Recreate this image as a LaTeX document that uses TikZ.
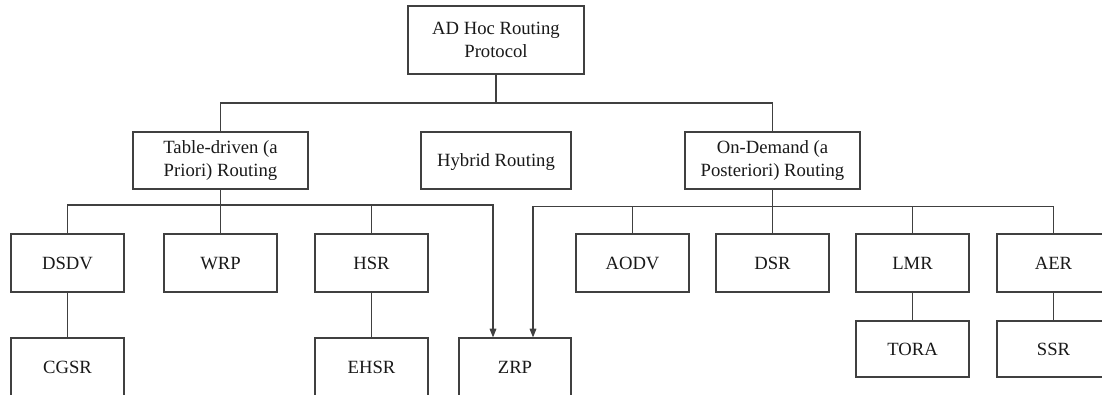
\documentclass[tikz,border=0pt]{standalone}
\usepackage{fontspec}
\setmainfont{Liberation Serif}
\usetikzlibrary{arrows.meta}
\begin{document}
\begin{tikzpicture}[x=0.75pt,y=-0.75pt,
  box/.style={draw=black!75,line width=0.9pt,fill=white,align=center,inner sep=0pt,
    font=\fontsize{14}{17.5}\selectfont,text=black!90},
  oneline/.style={box,text height=9.3pt,text depth=0pt},
  lv3/.style={oneline,minimum width=84.75pt,minimum height=43.5pt},
  lv2/.style={box,minimum width=131.25pt,minimum height=42.75pt},
  conn/.style={draw=black!75,line width=0.8pt},
  arr/.style={conn,-{Triangle[length=6.5pt,width=5pt]}}]
\path[use as bounding box] (0,0) rectangle (1102,394);
\clip (0,0) rectangle (1102,394);
% nodes
\node[box,minimum width=132pt,minimum height=51pt] (root) at (496,40) {AD Hoc Routing\\Protocol};
\node[lv2] (td) at (220.5,160.5) {Table-driven (a\\Priori) Routing};
\node[oneline,minimum width=112.5pt,minimum height=42.75pt] (hy) at (496,160.5) {Hybrid Routing};
\node[lv2] (od) at (772.5,160.5) {On-Demand (a\\Posteriori) Routing};
\node[lv3] (dsdv) at (67.5,263) {DSDV};
\node[lv3] (wrp) at (220.5,263) {WRP};
\node[lv3] (hsr) at (371.5,263) {HSR};
\node[lv3] (aodv) at (632.5,263) {AODV};
\node[lv3] (dsr) at (772.5,263) {DSR};
\node[lv3] (lmr) at (912.5,263) {LMR};
\node[lv3] (aer) at (1053.5,263) {AER};
\node[lv3] (cgsr) at (67.5,367) {CGSR};
\node[lv3] (ehsr) at (371.5,367) {EHSR};
\node[lv3,minimum width=84pt] (zrp) at (515,367) {ZRP};
\node[lv3,minimum height=42pt] (tora) at (912.5,349) {TORA};
\node[lv3,minimum height=42pt] (ssr) at (1053.5,349) {SSR};
% bus coordinates
\coordinate (tb) at (0,103);
\coordinate (b1) at (0,205);
\coordinate (b2) at (0,206.5);
\coordinate (za) at ([xshift=-16.5pt]zrp.north);
\coordinate (zb) at ([xshift=13.5pt]zrp.north);
% top level
\draw[conn] (root.south) -- (root.south |- tb);
\draw[conn] (td.north) -- (td.north |- tb) -- (od.north |- tb) -- (od.north);
% table-driven
\draw[conn] (td.south) -- (wrp.north);
\draw[arr] (dsdv.north) |- (za |- b1) -- (za);
\draw[conn] (hsr.north) -- (hsr.north |- b1);
\draw[conn] (dsdv.south) -- (cgsr.north);
\draw[conn] (hsr.south) -- (ehsr.north);
% on-demand
\draw[conn] (od.south) -- (dsr.north);
\draw[arr] (aer.north) |- (zb |- b2) -- (zb);
\draw[conn] (aodv.north) -- (aodv.north |- b2);
\draw[conn] (lmr.north) -- (lmr.north |- b2);
\draw[conn] (lmr.south) -- (tora.north);
\draw[conn] (aer.south) -- (ssr.north);
\end{tikzpicture}
\end{document}
